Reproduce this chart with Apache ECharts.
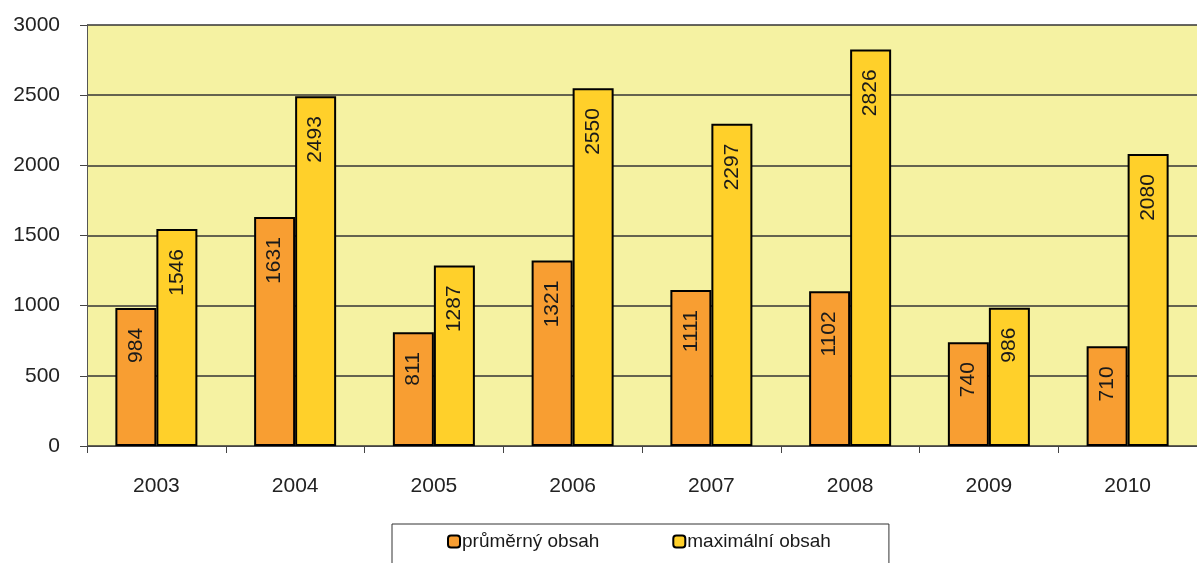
<!DOCTYPE html>
<html><head><meta charset="utf-8">
<script src="https://cdn.jsdelivr.net/npm/echarts@6/dist/echarts.min.js"></script>
<style>html,body{margin:0;padding:0;background:#fff}#c{width:1197px;height:563px}</style>
</head><body><div id="c"></div>
<script>
const categories = ['2003','2004','2005','2006','2007','2008','2009','2010'];
const avgValues = [984, 1631, 811, 1321, 1111, 1102, 740, 710];
const maxValues = [1546, 2493, 1287, 2550, 2297, 2826, 986, 2080];
const seriesNames = ['průměrný obsah', 'maximální obsah'];
const yTicks = [0, 500, 1000, 1500, 2000, 2500, 3000];

const font = "'Liberation Sans', Arial, sans-serif";
const chart = echarts.init(document.getElementById('c'), null, {renderer: 'canvas'});
const labelCfg = {
  show: true, position: 'insideTop', rotate: 90, align: 'right', verticalAlign: 'middle',
  distance: 20, fontSize: 21, fontFamily: font, color: '#1a1a1a'
};
chart.setOption({
  animation: false,
  textStyle: {fontFamily: font},
  grid: {left: 87, top: 25, width: 1120, height: 421, show: true, backgroundColor: '#F5F2A2', borderWidth: 0},
  legend: {
    left: 392, top: 524,
    padding: [8, 58, 30, 55], itemGap: 73, itemWidth: 12, itemHeight: 12,
    borderColor: '#333', borderWidth: 1,
    textStyle: {fontSize: 19, fontFamily: font, color: '#1a1a1a', padding: [0, 0, 0, -3]},
    itemStyle: {borderColor: '#000', borderWidth: 2},
    data: seriesNames
  },
  xAxis: {
    type: 'category', data: categories,
    axisLine: {show: true, lineStyle: {color: '#444', width: 1}},
    axisTick: {show: true, length: 7, lineStyle: {color: '#444'}},
    axisLabel: {fontSize: 21, fontFamily: font, color: '#222', margin: 30}
  },
  yAxis: {
    type: 'value', min: yTicks[0], max: yTicks[yTicks.length-1], interval: 500,
    axisLine: {show: true, lineStyle: {color: '#555', width: 1}},
    axisTick: {show: true, length: 7, lineStyle: {color: '#444'}},
    axisLabel: {fontSize: 21, fontFamily: font, color: '#222', margin: 27, formatter: v => String(v)},
    splitLine: {show: true, lineStyle: {color: '#333', width: 1.5}}
  },
  series: [
    {name: seriesNames[0], type: 'bar', data: avgValues, barWidth: 41, barGap: '0%',
     itemStyle: {color: '#F89E32', borderColor: '#000', borderWidth: 2}, label: labelCfg},
    {name: seriesNames[1], type: 'bar', data: maxValues, barWidth: 41, barGap: '0%',
     itemStyle: {color: '#FFD02A', borderColor: '#000', borderWidth: 2}, label: labelCfg}
  ]
});
</script></body></html>
